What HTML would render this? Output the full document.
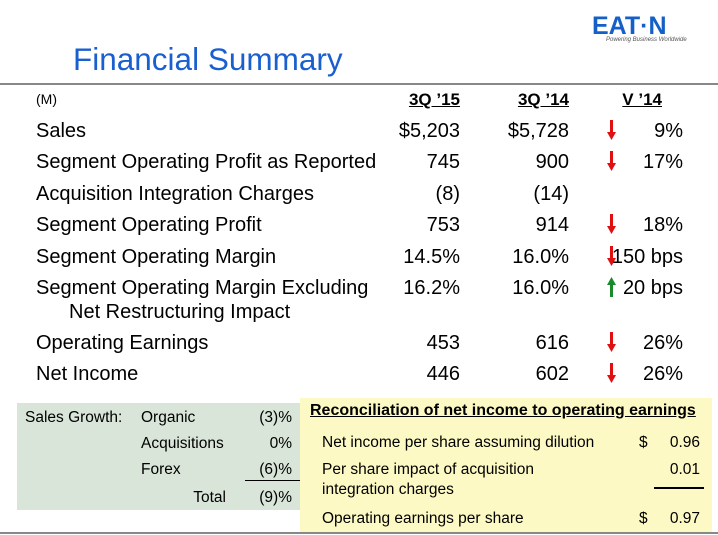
<!DOCTYPE html>
<html><head><meta charset="utf-8"><style>
body{margin:0;width:718px;height:535px;background:#fff;position:relative;overflow:hidden;font-family:"Liberation Sans",Arial,sans-serif;color:#000}
.a{position:absolute;white-space:nowrap}
.r{text-align:right}
.row{font-size:20px}
.h{font-size:17px;font-weight:bold;text-decoration:underline}
.s{font-size:15.5px}
.ar{position:absolute;left:607px;width:9px;height:20px}
</style></head><body>
<div class="a" style="left:592px;top:12px;font-size:25px;font-weight:900;color:#1560c8;letter-spacing:0px;font-family:'Liberation Sans',sans-serif">EAT·N</div>
<div class="a" style="left:606px;top:37px;font-size:6px;font-style:italic;color:#555">Powering Business Worldwide</div>
<div class="a" style="left:73px;top:41px;font-size:31.5px;color:#1a5fd0">Financial Summary</div>
<div class="a" style="left:0;top:83px;width:718px;height:2px;background:#888"></div>

<div class="a" style="left:36px;top:91px;font-size:14px">(M)</div>
<div class="a h r" style="right:258px;top:90px">3Q ’15</div>
<div class="a h r" style="right:149px;top:90px">3Q ’14</div>
<div class="a h r" style="right:56px;top:90px">V ’14</div>

<svg width="0" height="0" style="position:absolute"><defs>
<symbol id="dn" viewBox="0 0 9 20"><rect x="3" y="0" width="3" height="13" fill="#e01010"/><polygon points="0,12 9,12 4.5,20" fill="#e01010"/></symbol>
<symbol id="up" viewBox="0 0 9 20"><rect x="3" y="7" width="3" height="13" fill="#1a8a2a"/><polygon points="0,8 9,8 4.5,0" fill="#1a8a2a"/></symbol>
</defs></svg>

<div>
<div class="a row" style="left:36px;top:120px">Sales</div><div class="a row r" style="right:258px;top:120px">$5,203</div><div class="a row r" style="right:149px;top:120px">$5,728</div><svg class="ar" style="top:120px"><use href="#dn"/></svg><div class="a row r" style="right:35px;top:120px">9%</div>
<div class="a row" style="left:36px;top:151px">Segment Operating Profit as Reported</div><div class="a row r" style="right:258px;top:151px">745</div><div class="a row r" style="right:149px;top:151px">900</div><svg class="ar" style="top:151px"><use href="#dn"/></svg><div class="a row r" style="right:35px;top:151px">17%</div>
<div class="a row" style="left:36px;top:183px">Acquisition Integration Charges</div><div class="a row r" style="right:258px;top:183px">(8)</div><div class="a row r" style="right:149px;top:183px">(14)</div>
<div class="a row" style="left:36px;top:214px">Segment Operating Profit</div><div class="a row r" style="right:258px;top:214px">753</div><div class="a row r" style="right:149px;top:214px">914</div><svg class="ar" style="top:214px"><use href="#dn"/></svg><div class="a row r" style="right:35px;top:214px">18%</div>
<div class="a row" style="left:36px;top:246px">Segment Operating Margin</div><div class="a row r" style="right:258px;top:246px">14.5%</div><div class="a row r" style="right:149px;top:246px">16.0%</div><svg class="ar" style="top:246px"><use href="#dn"/></svg><div class="a row r" style="right:35px;top:246px">150 bps</div>
<div class="a row" style="left:36px;top:277px">Segment Operating Margin Excluding</div><div class="a row" style="left:69px;top:301px">Net Restructuring Impact</div><div class="a row r" style="right:258px;top:277px">16.2%</div><div class="a row r" style="right:149px;top:277px">16.0%</div><svg class="ar" style="top:277px"><use href="#up"/></svg><div class="a row r" style="right:35px;top:277px">20 bps</div>
<div class="a row" style="left:36px;top:332px">Operating Earnings</div><div class="a row r" style="right:258px;top:332px">453</div><div class="a row r" style="right:149px;top:332px">616</div><svg class="ar" style="top:332px"><use href="#dn"/></svg><div class="a row r" style="right:35px;top:332px">26%</div>
<div class="a row" style="left:36px;top:363px">Net Income</div><div class="a row r" style="right:258px;top:363px">446</div><div class="a row r" style="right:149px;top:363px">602</div><svg class="ar" style="top:363px"><use href="#dn"/></svg><div class="a row r" style="right:35px;top:363px">26%</div>
</div>

<div class="a" style="left:17px;top:403px;width:283px;height:107px;background:#d9e5d9"></div>
<div class="a s" style="left:25px;top:409px">Sales Growth:</div>
<div class="a s" style="left:141px;top:409px">Organic</div><div class="a s r" style="right:426px;top:409px">(3)%</div>
<div class="a s" style="left:141px;top:435px">Acquisitions</div><div class="a s r" style="right:426px;top:435px">0%</div>
<div class="a s" style="left:141px;top:461px">Forex</div><div class="a s r" style="right:426px;top:461px">(6)%</div>
<div class="a" style="left:245px;top:480px;width:55px;height:1px;background:#000"></div>
<div class="a s r" style="right:492px;top:489px">Total</div><div class="a s r" style="right:426px;top:489px">(9)%</div>

<div class="a" style="left:300px;top:398px;width:412px;height:134px;background:#fdf9c4"></div>
<div class="a" style="left:310px;top:402px;font-size:16px;font-weight:bold;text-decoration:underline">Reconciliation of net income to operating earnings</div>
<div class="a s" style="left:322px;top:434px">Net income per share assuming dilution</div><div class="a s" style="left:639px;top:434px">$</div><div class="a s r" style="right:18px;top:434px">0.96</div>
<div class="a s" style="left:322px;top:461px">Per share impact of acquisition</div><div class="a s" style="left:322px;top:481px">integration charges</div><div class="a s r" style="right:18px;top:461px">0.01</div>
<div class="a" style="left:654px;top:487px;width:50px;height:2px;background:#000"></div>
<div class="a s" style="left:322px;top:510px">Operating earnings per share</div><div class="a s" style="left:639px;top:510px">$</div><div class="a s r" style="right:18px;top:510px">0.97</div>
<div class="a" style="left:0;top:532px;width:718px;height:2px;background:#888"></div>
</body></html>
